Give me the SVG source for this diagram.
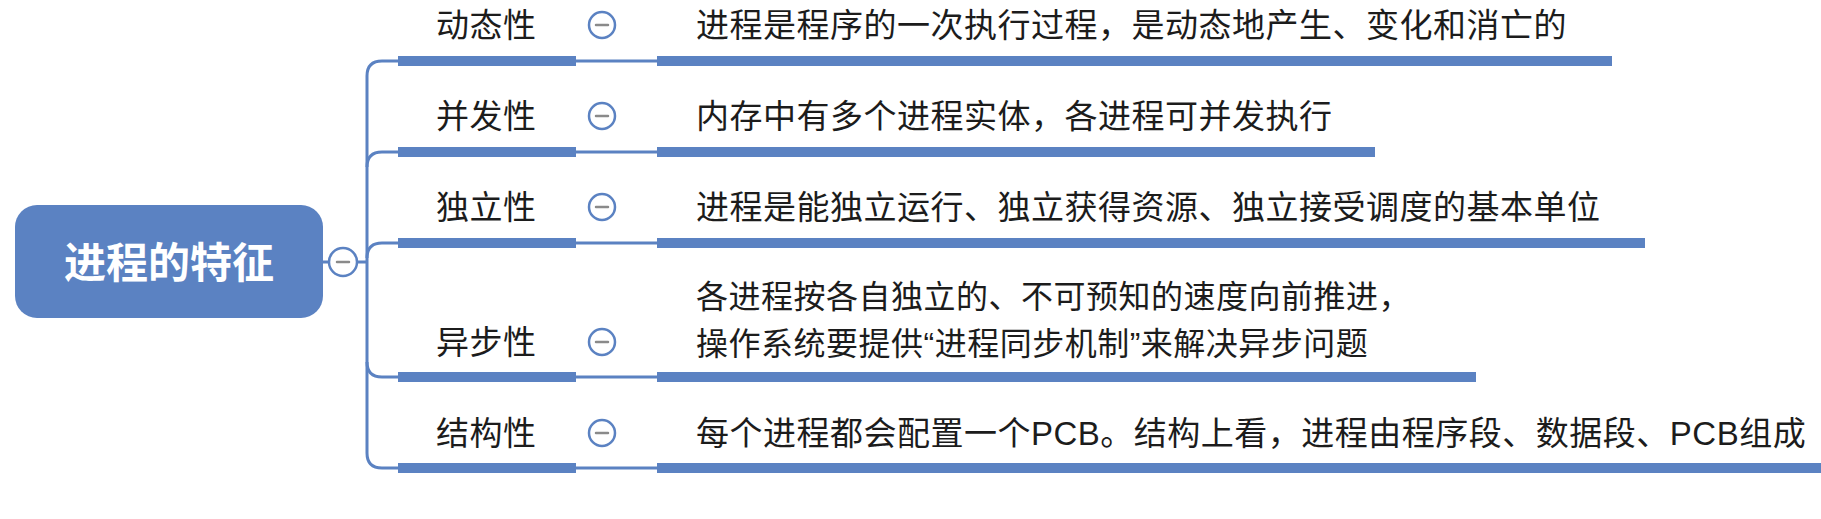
<svg xmlns="http://www.w3.org/2000/svg" width="1821" height="519" viewBox="0 0 1821 519">
<style>
.t{font-family:"Noto Sans CJK SC","Noto Sans",sans-serif;font-size:33px;fill:#1c1c1c;letter-spacing:0.5px}
.t2{font-size:32px}
.q{font-family:"Liberation Sans","Noto Sans CJK SC",sans-serif}
.bar{fill:#5b82c2}
.thin{fill:none;stroke:#5b82c2;stroke-width:3}
.col{fill:#fff;stroke:#5b82c2;stroke-width:2.5}
.minus{stroke:#8a8a8a;stroke-width:2.5;stroke-linecap:round}
</style>
<rect width="1821" height="519" fill="#fff"/>
<g id="connectors">
<path class="thin" d="M323 262 H367"/>
<path class="thin" d="M398 468 H382 Q367 468 367 453 V76 Q367 61 382 61 H398"/>
<path class="thin" d="M367 167 Q367 152 382 152 H398"/>
<path class="thin" d="M367 258 Q367 243 382 243 H398"/>
<path class="thin" d="M367 362 Q367 377 382 377 H398"/>
<path class="thin" d="M576 61 H657 M576 152 H657 M576 243 H657 M576 377 H657 M576 468 H657"/>
</g>
<g id="root">
<rect x="15" y="205" width="308" height="113" rx="22" fill="#5b82c2"/>
<text x="169" y="278" text-anchor="middle" style="font-family:'Noto Sans CJK SC',sans-serif;font-size:42px;font-weight:700;fill:#fff">进程的特征</text>
<circle class="col" cx="343" cy="262" r="14"/>
<line class="minus" x1="337" y1="262" x2="349" y2="262"/>
</g>
<g id="n1">
<rect class="bar" x="398" y="56" width="178" height="10"/>
<text class="t" x="436" y="37">动态性</text>
<circle class="col" cx="602" cy="25" r="13"/>
<line class="minus" x1="596" y1="25" x2="608" y2="25"/>
</g>
<g id="d1">
<rect class="bar" x="657" y="56" width="955" height="10"/>
<text class="t" x="696" y="37">进程是程序的一次执行过程，是动态地产生、变化和消亡的</text>
</g>
<g id="n2">
<rect class="bar" x="398" y="147" width="178" height="10"/>
<text class="t" x="436" y="128">并发性</text>
<circle class="col" cx="602" cy="116" r="13"/>
<line class="minus" x1="596" y1="116" x2="608" y2="116"/>
</g>
<g id="d2">
<rect class="bar" x="657" y="147" width="718" height="10"/>
<text class="t" x="696" y="128">内存中有多个进程实体，各进程可并发执行</text>
</g>
<g id="n3">
<rect class="bar" x="398" y="238" width="178" height="10"/>
<text class="t" x="436" y="219">独立性</text>
<circle class="col" cx="602" cy="207" r="13"/>
<line class="minus" x1="596" y1="207" x2="608" y2="207"/>
</g>
<g id="d3">
<rect class="bar" x="657" y="238" width="988" height="10"/>
<text class="t" x="696" y="219">进程是能独立运行、独立获得资源、独立接受调度的基本单位</text>
</g>
<g id="n4">
<rect class="bar" x="398" y="372" width="178" height="10"/>
<text class="t" x="436" y="354">异步性</text>
<circle class="col" cx="602" cy="342" r="13"/>
<line class="minus" x1="596" y1="342" x2="608" y2="342"/>
</g>
<g id="d4">
<rect class="bar" x="657" y="372" width="819" height="10"/>
<text class="t t2" x="696" y="308">各进程按各自独立的、不可预知的速度向前推进，</text>
<text class="t t2" x="696" y="355">操作系统要提供<tspan class="q">“</tspan>进程同步机制<tspan class="q">”</tspan>来解决异步问题</text>
</g>
<g id="n5">
<rect class="bar" x="398" y="463" width="178" height="10"/>
<text class="t" x="436" y="445">结构性</text>
<circle class="col" cx="602" cy="433" r="13"/>
<line class="minus" x1="596" y1="433" x2="608" y2="433"/>
</g>
<g id="d5">
<rect class="bar" x="657" y="463" width="1164" height="10"/>
<text class="t" x="696" y="445">每个进程都会配置一个<tspan class="q">PCB</tspan>。结构上看，进程由程序段、数据段、<tspan class="q">PCB</tspan>组成</text>
</g>
</svg>
